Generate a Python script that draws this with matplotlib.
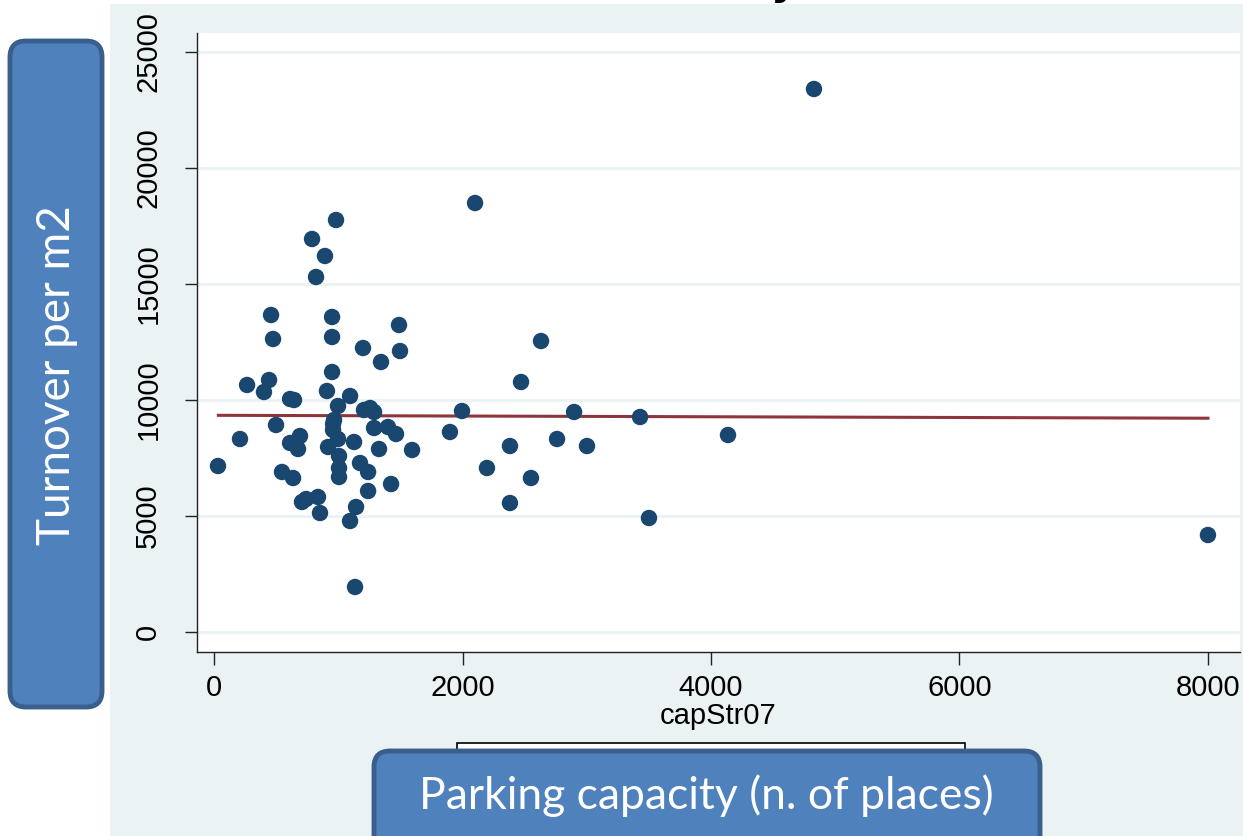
import matplotlib
matplotlib.use("Agg")
import matplotlib.pyplot as plt
from matplotlib.patches import FancyBboxPatch, Rectangle

# ── Data: parking capacity vs turnover per m2 ────────────────────────────────
cap_str07 = [
    32, 209, 266, 402, 443, 459, 475, 499, 547, 612,
    612, 644, 636, 676, 692, 708, 741, 789, 821, 837,
    853, 893, 909, 918, 950, 950, 950, 958, 958, 966,
    982, 998, 998, 1006, 1006, 1006, 1095, 1095, 1127, 1143,
    1135, 1175, 1199, 1207, 1240, 1240, 1256, 1288, 1288, 1328,
    1344, 1400, 1425, 1465, 1489, 1497, 1594, 1899, 1996, 2101,
    2197, 2382, 2382, 2471, 2551, 2632, 2761, 2898, 3002, 3429,
    3501, 4137, 4829, 8000,
]
turnover_m2 = [
    7155, 8319, 10647, 10345, 10862, 13664, 12629, 8922, 6897, 8147,
    10043, 10000, 6638, 7888, 8448, 5603, 5733, 16940, 15302, 5819,
    5129, 16207, 10388, 7974, 13578, 12716, 11207, 8966, 8707, 9138,
    17759, 9741, 8319, 7069, 6681, 7586, 10172, 4784, 8190, 5388,
    1940, 7284, 12241, 9569, 6897, 6078, 9655, 9483, 8793, 7888,
    11638, 8836, 6379, 8534, 13233, 12112, 7845, 8621, 9526, 18491,
    7069, 8017, 5560, 10776, 6638, 12543, 8319, 9483, 8017, 9267,
    4914, 8491, 23405, 4181,
]

# fitted linear trend (endpoints)
fit_x = [35, 8000]
fit_y = [9340, 9215]

XTICKS = [0, 2000, 4000, 6000, 8000]
YTICKS = [0, 5000, 10000, 15000, 20000, 25000]

# ── Colours / fonts ──────────────────────────────────────────────────────────
BG = "#EAF2F3"
NAVY = "#1A476F"
MAROON = "#8E353B"
BOX_FILL = "#4F81BD"
BOX_EDGE = "#3A5F8D"
TICK_FONT = ["Liberation Sans", "DejaVu Sans"]
BOX_FONT = ["Lato", "DejaVu Sans"]

W, H = 1243, 836
fig = plt.figure(figsize=(W / 100, H / 100), dpi=100)

# pixel-space layer behind the plot for the graph region background
back = fig.add_axes([0, 0, 1, 1], zorder=0)
back.set_xlim(0, W)
back.set_ylim(H, 0)
back.axis("off")
back.add_patch(Rectangle((110, 4), W - 110, H - 4, facecolor=BG, edgecolor="none"))

# ── Scatter ──────────────────────────────────────────────────────────────────
ax = fig.add_axes([197 / W, (H - 652) / H, (1240 - 197) / W, (652 - 33) / H], zorder=1)
ax.set_facecolor("white")
ax.set_xlim(-137, 8258)
ax.set_ylim(-862, 25819)

for y in YTICKS:
    ax.axhline(y, color=BG, linewidth=2, zorder=0)

ax.scatter(cap_str07, turnover_m2, s=140, color=NAVY, edgecolors="none", zorder=3)
ax.plot(fit_x, fit_y, color=MAROON, linewidth=2.2, zorder=2)

ax.set_xticks(XTICKS)
ax.set_yticks(YTICKS)
ax.set_xticklabels([str(v) for v in XTICKS], family=TICK_FONT, fontsize=21)
ax.set_yticklabels([str(v) for v in YTICKS], family=TICK_FONT, fontsize=21,
                   rotation=90, va="center")
ax.tick_params(axis="x", length=9, width=1, pad=7, color="#222222")
ax.tick_params(axis="y", length=9, width=1, pad=16, color="#222222")
ax.set_xlabel("capStr07", family=TICK_FONT, fontsize=21, labelpad=0)

for side in ("top", "right"):
    ax.spines[side].set_visible(False)
for side in ("left", "bottom"):
    ax.spines[side].set_linewidth(1.0)
    ax.spines[side].set_color("#222222")

# ── Overlay callouts ─────────────────────────────────────────────────────────
top = fig.add_axes([0, 0, 1, 1], zorder=5)
top.set_xlim(0, W)
top.set_ylim(H, 0)
top.axis("off")

# title text running off the top edge
for x, ch in [(470, "("), (784, "y"), (1110, ")")]:
    top.text(x, -6, ch, fontsize=30, fontweight="bold", ha="center", va="baseline",
             color="black", clip_on=False)

# legend box peeking out behind the x-axis callout
top.add_patch(Rectangle((457, 743), 508, 40, facecolor="white",
                        edgecolor="black", linewidth=1.2))

top.add_patch(FancyBboxPatch((10, 41), 92, 666,
                             boxstyle="round,pad=0,rounding_size=16",
                             facecolor=BOX_FILL, edgecolor=BOX_EDGE, linewidth=3.5))
top.text(57, 375, "Turnover per m2", rotation=90, ha="center", va="center",
         color="white", fontsize=33, family=BOX_FONT)

top.add_patch(FancyBboxPatch((374, 751), 666, 110,
                             boxstyle="round,pad=0,rounding_size=16",
                             facecolor=BOX_FILL, edgecolor=BOX_EDGE, linewidth=3.5))
top.text(706, 796, "Parking capacity (n. of places)", ha="center", va="center",
         color="white", fontsize=32, family=BOX_FONT)

fig.savefig("out.png", dpi=100)
